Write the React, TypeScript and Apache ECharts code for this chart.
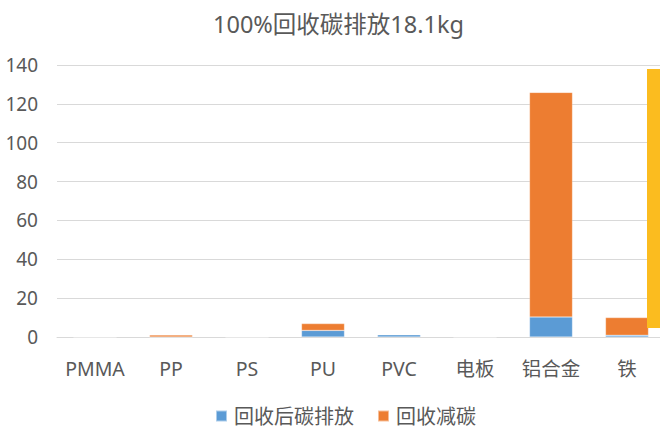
import React, { useEffect, useRef } from "react";
import * as echarts from "echarts";

const titleText = "100%回收碳排放18.1kg";
const categories = ["PMMA", "PP", "PS", "PU", "PVC", "电板", "铝合金", "铁"];
const emissionName = "回收后碳排放";
const reductionName = "回收减碳";
const emission = [0, 0, 0, 3.4, 1.2, 0, 10.3, 0.9];
const reduction = [0, 1.0, 0, 3.5, 0, 0, 115.6, 9.1];
const sideCategory = ["合计"];
const sideBase = [4.6];
const sideValue = [133.3];
const yMin = 0;
const yMax = 140;
const yInterval = 20;

const FONT = "'Noto Sans', 'Noto Sans CJK SC', sans-serif";
const TEXT = "#595959";

export default function App() {
  const ref = useRef<HTMLDivElement>(null);
  useEffect(() => {
    document.body.style.margin = "0";
    const chart = echarts.init(ref.current!, null, { renderer: "svg" });
    chart.setOption({
      animation: false,
      backgroundColor: "#ffffff",
      textStyle: { fontFamily: FONT },
      title: {
        text: titleText,
        left: 208,
        top: 7,
        textStyle: { fontFamily: FONT, fontSize: 23.5, fontWeight: "normal", color: TEXT },
      },
      legend: {
        data: [emissionName, reductionName],
        bottom: 1,
        left: 210,
        icon: "rect",
        itemWidth: 11,
        itemHeight: 11,
        itemGap: 23,
        textStyle: { fontFamily: FONT, fontSize: 20, color: TEXT, padding: [0, 0, 0, 2] },
      },
      grid: [
        { left: 57, width: 608, top: 65, bottom: 95, containLabel: false, outerBoundsMode: "none" },
        { left: 647, width: 26, top: 65, bottom: 95, containLabel: false, outerBoundsMode: "none" },
      ],
      xAxis: [
        {
          type: "category",
          data: categories,
          gridIndex: 0,
          axisLine: { show: true, lineStyle: { color: "#d9d9d9", width: 1 } },
          axisTick: { show: false },
          axisLabel: { color: TEXT, fontSize: 19.5, fontFamily: FONT, margin: 22, interval: 0 },
        },
        {
          type: "category",
          data: sideCategory,
          gridIndex: 1,
          show: false,
        },
      ],
      yAxis: [
        {
          type: "value",
          gridIndex: 0,
          min: yMin,
          max: yMax,
          interval: yInterval,
          axisLine: { show: false },
          axisTick: { show: false },
          splitLine: { lineStyle: { color: "#d9d9d9", width: 1 } },
          axisLabel: { color: TEXT, fontSize: 19, fontFamily: FONT, margin: 19 },
        },
        {
          type: "value",
          gridIndex: 1,
          min: yMin,
          max: yMax,
          show: false,
          splitLine: { show: false },
        },
      ],
      series: [
        {
          name: emissionName,
          type: "bar",
          stack: "main",
          barWidth: 43,
          data: emission,
          itemStyle: { color: "#5b9bd5", borderColor: "rgba(255,255,255,0.5)", borderWidth: 0.5 },
        },
        {
          name: reductionName,
          type: "bar",
          stack: "main",
          barWidth: 43,
          data: reduction,
          itemStyle: { color: "#ed7d31", borderColor: "rgba(255,255,255,0.5)", borderWidth: 0.5 },
        },
        {
          name: "base",
          type: "bar",
          stack: "side",
          xAxisIndex: 1,
          yAxisIndex: 1,
          barWidth: 26,
          data: sideBase,
          itemStyle: { color: "transparent" },
          silent: true,
        },
        {
          name: "side",
          type: "bar",
          stack: "side",
          xAxisIndex: 1,
          yAxisIndex: 1,
          barWidth: 26,
          data: sideValue,
          itemStyle: { color: "#fbbc1f" },
        },
      ],
    });
    return () => chart.dispose();
  }, []);
  return <div ref={ref} style={{ width: 660, height: 432 }} />;
}
